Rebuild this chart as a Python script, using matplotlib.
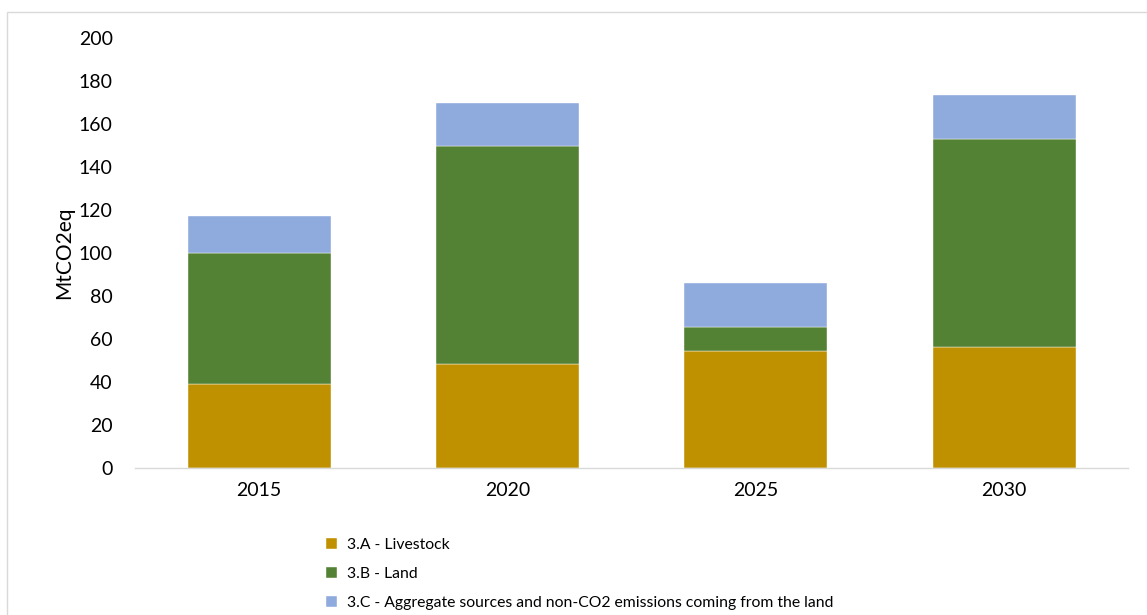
import matplotlib

matplotlib.use("Agg")
import matplotlib.pyplot as plt
from matplotlib.patches import Rectangle

years = ["2015", "2020", "2025", "2030"]
livestock = [39.1, 48.4, 54.4, 56.1]
land = [61.0, 101.5, 11.3, 97.1]
aggregate = [17.2, 19.7, 20.2, 20.3]

labels = [
    "3.A - Livestock",
    "3.B - Land",
    "3.C - Aggregate sources and non-CO2 emissions coming from the land",
]
colors = ["#BF9000", "#548235", "#8FAADC"]

plt.rcParams["font.family"] = ["Lato", "DejaVu Sans"]

fig = plt.figure(figsize=(11.47, 6.15), dpi=100)
ax = fig.add_axes([0.1177, 0.239, 0.866, 0.699])

x = range(len(years))
bottom = [0.0] * len(years)
for series, lab, col in zip([livestock, land, aggregate], labels, colors):
    ax.bar(x, series, width=0.575, bottom=bottom, color=col, label=lab,
           edgecolor="white", linewidth=0.3)
    bottom = [b + s for b, s in zip(bottom, series)]

ax.set_xlim(-0.5, 3.5)
ax.set_ylim(0, 200)
ax.set_yticks(range(0, 201, 20))
ax.set_xticks(list(x))
ax.set_xticklabels(years)
ax.tick_params(axis="both", length=0, labelsize=14, colors="#000000")
ax.tick_params(axis="x", pad=10)
ax.tick_params(axis="y", pad=16)

for side in ["top", "right", "left"]:
    ax.spines[side].set_visible(False)
ax.spines["bottom"].set_color("#d9d9d9")
ax.spines["bottom"].set_linewidth(1.0)

ax.set_ylabel("MtCO2eq", fontsize=15)
ax.yaxis.set_label_coords(-0.061, 0.5)

handles, leg_labels = ax.get_legend_handles_labels()
fig.legend(handles, leg_labels, loc="upper left",
           bbox_to_anchor=(0.279, 0.135), frameon=False, fontsize=11.3,
           handlelength=0.7, handleheight=0.7, handletextpad=0.6,
           labelspacing=0.95, borderaxespad=0)

# chart-area border
fig.patches.append(Rectangle((7 / 1147, -0.01), 1.0, (615 - 12) / 615 + 0.01,
                             transform=fig.transFigure, fill=False,
                             edgecolor="#d9d9d9", linewidth=1.0))

fig.savefig("out.png", dpi=100)
